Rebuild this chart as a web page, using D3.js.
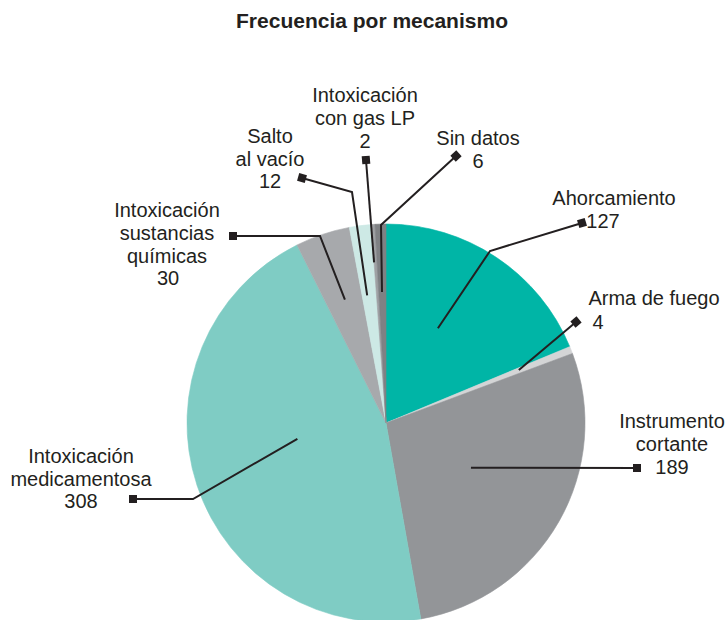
<!DOCTYPE html>
<html>
<head>
<meta charset="utf-8">
<script src="https://cdn.jsdelivr.net/npm/d3@7/dist/d3.min.js"></script>
<style>
  html, body { margin: 0; padding: 0; background: #fff; }
  svg { display: block; }
  text { font-family: "Liberation Sans", Arial, Helvetica, sans-serif; fill: #231f20; }
</style>
</head>
<body>
<svg id="chart" width="725" height="620"></svg>
<script>
// ---- data ----
const categories = [
  "Ahorcamiento", "Arma de fuego", "Instrumento cortante", "Intoxicación medicamentosa",
  "Intoxicación sustancias químicas", "Salto al vacío", "Intoxicación con gas LP", "Sin datos"
];
const values = [127, 4, 189, 308, 30, 12, 2, 6];
const labelLines = [
  ["Ahorcamiento"],
  ["Arma de fuego"],
  ["Instrumento", "cortante"],
  ["Intoxicación", "medicamentosa"],
  ["Intoxicación", "sustancias", "químicas"],
  ["Salto", "al vacío"],
  ["Intoxicación", "con gas LP"],
  ["Sin datos"]
];
const colors = ["#00b5a6", "#d4d5d6", "#939598", "#7fccc4", "#a7a9ac", "#cde9e5", "#9fa1a4", "#7f8184"];
const title = "Frecuencia por mecanismo";

// ---- layout (positions only) ----
const cx = 386, cy = 423, R = 199;
// inner anchor: fraction within slice angle, radius
const anchorFrac = [0.426, 0.4, 0.48, 0.55, 0.51, 0.35, 0.0, 0.45];
const anchorR   = [108, 143, 96, 90, 130, 129, 161, 131];
// elbow (or null) and marker positions
const elbows  = [[490,251], null, null, [193,499], [320,236], [352,192], null, [381,225]];
const markers = [[582,223], [576,322], [637,468], [133,499], [233,236], [302,178], [366,160], [456,156]];
// text: label centre x, first baseline y, value centre x, value baseline y
const textPos = [
  {x: 614, y: 205, vx: 603, vy: 228},
  {x: 654, y: 305, vx: 598, vy: 329},
  {x: 672, y: 428, vx: 672, vy: 474},
  {x: 81,  y: 463, vx: 81,  vy: 508},
  {x: 167, y: 217, vx: 168, vy: 285},
  {x: 270, y: 143, vx: 270, vy: 188},
  {x: 365, y: 102, vx: 365, vy: 148},
  {x: 478, y: 145, vx: 478, vy: 168}
];
const lineH = 23;

const svg = d3.select("#chart");

svg.append("text")
  .attr("x", 372).attr("y", 28)
  .attr("text-anchor", "middle")
  .style("font-size", "21px").style("font-weight", "bold")
  .text(title);

const data = categories.map((c, i) => ({name: c, value: values[i], i}));
const pie = d3.pie().sort(null).value(d => d.value).startAngle(0).endAngle(2 * Math.PI);
const arcs = pie(data);
const arc = d3.arc().innerRadius(0).outerRadius(R);

const g = svg.append("g").attr("transform", `translate(${cx},${cy})`);
g.selectAll("path").data(arcs).join("path")
  .attr("d", arc)
  .attr("fill", d => colors[d.data.i])
  .attr("stroke", d => colors[d.data.i])
  .attr("stroke-width", 0.6);

// leader lines
const lead = svg.append("g");
arcs.forEach((a, i) => {
  const ang = a.startAngle + anchorFrac[i] * (a.endAngle - a.startAngle);
  const p0 = [cx + anchorR[i] * Math.sin(ang), cy - anchorR[i] * Math.cos(ang)];
  const pts = [p0];
  if (elbows[i]) pts.push(elbows[i]);
  pts.push(markers[i]);
  lead.append("path")
    .attr("d", d3.line()(pts))
    .attr("fill", "none")
    .attr("stroke", "#231f20")
    .attr("stroke-width", 2);
  const prev = pts[pts.length - 2], m = markers[i];
  const rot = Math.atan2(m[1] - prev[1], m[0] - prev[0]) * 180 / Math.PI;
  lead.append("rect")
    .attr("x", -4).attr("y", -4).attr("width", 8).attr("height", 8)
    .attr("fill", "#231f20")
    .attr("transform", `translate(${m[0]},${m[1]}) rotate(${rot})`);
});

// labels
const lab = svg.append("g").style("font-size", "20px");
labelLines.forEach((lines, i) => {
  const t = textPos[i];
  lines.forEach((s, k) => {
    lab.append("text").attr("x", t.x).attr("y", t.y + k * lineH)
      .attr("text-anchor", "middle").text(s);
  });
  lab.append("text").attr("x", t.vx).attr("y", t.vy)
    .attr("text-anchor", "middle").text(values[i]);
});
</script>
</body>
</html>
